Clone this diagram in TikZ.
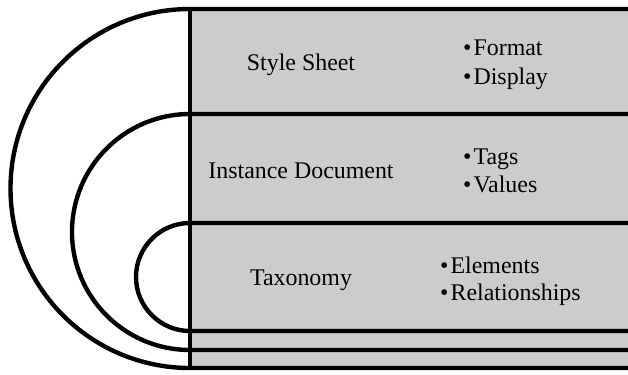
\documentclass[tikz,border=0pt]{standalone}
\usepackage{fontspec}
\setmainfont{Liberation Serif}
\definecolor{panel}{RGB}{204,204,204}
\begin{document}
\begin{tikzpicture}[x=1bp,y=1bp,
  bound/.style={line width=4.4bp, draw=black},
  label/.style={font=\fontsize{24}{29}\selectfont, text=black, inner sep=0pt, anchor=base},
  item/.style={font=\fontsize{24}{29}\selectfont, text=black, inner sep=0pt, anchor=base west}]
\useasboundingbox (0,0) rectangle (628,374);
\fill[white] (0,0) rectangle (628,374);
\fill[panel] (190,6) rectangle (628,365);
% named anchor points on the spine
\coordinate (t1) at (190,365);
\coordinate (b1) at (190,6);
\coordinate (t2) at (190,260);
\coordinate (b2) at (190,24);
\coordinate (t3) at (190,151);
\coordinate (b3) at (190,43);
\coordinate (r1) at (628,365);
\coordinate (s1) at (628,6);
\coordinate (r2) at (628,260);
\coordinate (s2) at (628,24);
\coordinate (r3) at (628,151);
\coordinate (s3) at (628,43);
% outer loop
\draw[bound] (r1) -- (t1) arc[start angle=90, end angle=270, radius=179.5] -- (s1);
% middle loop
\draw[bound] (r2) -- (t2) arc[start angle=90, end angle=270, radius=118] -- (s2);
% inner loop
\draw[bound] (r3) -- (t3) arc[start angle=90, end angle=270, radius=54] -- (s3);
% spine
\draw[bound] (t1) -- (b1);
% labels
\node[label] (ss) at (301,304) {Style Sheet};
\node[label] (id) at (301,196) {Instance Document};
\node[label] (tx) at (301,89) {Taxonomy};
\node[item] (f1) at (463,319) {\textbullet\hspace{2bp}Format};
\node[item] (f2) at (463,290) {\textbullet\hspace{2bp}Display};
\node[item] (g1) at (463,210) {\textbullet\hspace{2bp}Tags};
\node[item] (g2) at (463,182) {\textbullet\hspace{2bp}Values};
\node[item] (h1) at (440,101) {\textbullet\hspace{2bp}Elements};
\node[item] (h2) at (440,74) {\textbullet\hspace{2bp}Relationships};
\end{tikzpicture}
\end{document}
